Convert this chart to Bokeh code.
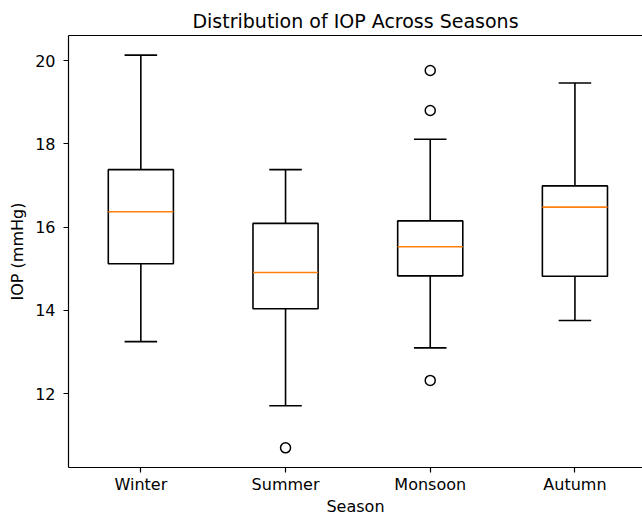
from bokeh.plotting import figure
from bokeh.models import FixedTicker, LinearAxis, Range1d, ColumnDataSource
from bokeh.embed import file_html
from bokeh.resources import INLINE

# ---- data ----
seasons = ["Winter", "Summer", "Monsoon", "Autumn"]
q1 = [15.12, 14.04, 14.83, 14.82]
median = [16.37, 14.91, 15.53, 16.48]
q3 = [17.38, 16.09, 16.15, 16.99]
whisker_low = [13.25, 11.71, 13.10, 13.76]
whisker_high = [20.13, 17.38, 18.11, 19.46]
outlier_season = ["Summer", "Monsoon", "Monsoon", "Monsoon"]
outlier_value = [10.70, 19.76, 18.80, 12.32]
y_ticks = [12, 14, 16, 18, 20]

FONT = "DejaVu Sans"
BOX_W = 0.45
CAP_W = BOX_W / 2

pos = list(range(1, len(seasons) + 1))
src = ColumnDataSource(dict(
    x=pos,
    q1=q1, med=median, q3=q3, lo=whisker_low, hi=whisker_high,
    bl=[p - BOX_W / 2 for p in pos], br=[p + BOX_W / 2 for p in pos],
    cl=[p - CAP_W / 2 for p in pos], cr=[p + CAP_W / 2 for p in pos],
))
out_src = ColumnDataSource(dict(
    x=[seasons.index(s) + 1 for s in outlier_season],
    y=outlier_value,
))

lo_all = min(min(whisker_low), min(outlier_value))
hi_all = max(max(whisker_high), max(outlier_value))
pad = 0.05 * (hi_all - lo_all)

p = figure(width=642, height=518, output_backend="svg", toolbar_location=None,
           x_range=Range1d(0.5, 4.467), y_range=Range1d(lo_all - pad, hi_all + pad),
           title="Distribution of IOP Across Seasons",
           min_border_left=68, min_border_right=0, min_border_top=35,
           min_border_bottom=51)

p.outline_line_color = None
p.background_fill_color = "white"
p.border_fill_color = "white"
p.grid.visible = False

p.title.text_font = FONT
p.title.text_font_size = "19px"
p.title.text_font_style = "normal"
p.title.text_color = "black"
p.title.align = "center"
p.title.standoff = 7

bx = p.below[0]
ly = p.left[0]

for ax in (bx, ly):
    ax.axis_line_color = "black"
    ax.axis_line_width = 1.2
    ax.major_tick_line_color = "black"
    ax.major_tick_line_width = 1.2
    ax.major_tick_out = 5
    ax.major_tick_in = 0
    ax.minor_tick_line_color = None
    ax.major_label_text_font = FONT
    ax.major_label_text_font_size = "16px"
    ax.major_label_text_color = "black"
    ax.axis_label_text_font = FONT
    ax.axis_label_text_font_size = "16px"
    ax.axis_label_text_font_style = "normal"
    ax.axis_label_text_color = "black"

bx.ticker = FixedTicker(ticks=pos)
bx.major_label_overrides = {i: s for i, s in zip(pos, seasons)}
bx.axis_label = "Season"
bx.major_label_standoff = 2
bx.axis_label_standoff = 0

ly.ticker = FixedTicker(ticks=y_ticks)
ly.axis_label = "IOP (mmHg)"
ly.major_label_standoff = 8
ly.axis_label_standoff = 5

# top spine (no ticks, no labels)
top_axis = LinearAxis(ticker=FixedTicker(ticks=[]), axis_line_color="black",
                      axis_line_width=1.2, major_tick_line_color=None,
                      minor_tick_line_color=None, major_label_text_font_size="0px",
                      major_tick_out=0, major_tick_in=0, major_label_standoff=0)
p.add_layout(top_axis, "above")

LW = 1.6
# whiskers
p.segment(x0="x", y0="lo", x1="x", y1="q1", source=src, line_color="black", line_width=LW)
p.segment(x0="x", y0="q3", x1="x", y1="hi", source=src, line_color="black", line_width=LW)
# caps
p.segment(x0="cl", y0="lo", x1="cr", y1="lo", source=src, line_color="black", line_width=LW)
p.segment(x0="cl", y0="hi", x1="cr", y1="hi", source=src, line_color="black", line_width=LW)
# boxes
p.quad(left="bl", right="br", bottom="q1", top="q3", source=src,
       fill_color=None, line_color="black", line_width=LW)
# medians
p.segment(x0="bl", y0="med", x1="br", y1="med", source=src, line_color="#ff7f0e", line_width=LW)
# outliers
p.scatter(x="x", y="y", source=out_src, marker="circle", size=10,
          fill_color=None, line_color="black", line_width=1.5)

open("out.html", "w").write(file_html(p, INLINE))
